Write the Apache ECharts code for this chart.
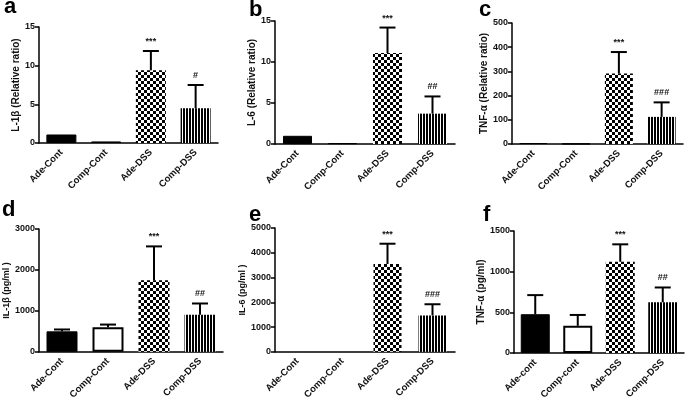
<!DOCTYPE html>
<html><head><meta charset="utf-8">
<script src="https://cdn.jsdelivr.net/npm/echarts@6/dist/echarts.min.js"></script>
<style>html,body{margin:0;padding:0;background:#fff}#c{width:685px;height:402px}</style>
</head><body><div id="c"></div>
<script>
// ---------- data ----------
const catsA = ['Ade-Cont', 'Comp-Cont', 'Ade-DSS', 'Comp-DSS'];
const catsB = ['Ade-Cont', 'Comp-Cont', 'Ade-DSS', 'Comp-DSS'];
const catsC = ['Ade-Cont', 'Comp-Cont', 'Ade-DSS', 'Comp-DSS'];
const catsD = ['Ade-Cont', 'Comp-Cont', 'Ade-DSS', 'Comp-DSS'];
const catsE = ['Ade-Cont', 'Comp-Cont', 'Ade-DSS', 'Comp-DSS'];
const catsF = ['Ade-cont', 'Comp-cont', 'Ade-DSS', 'Comp-DSS'];

const valsA = [1.1, 0.2, 9.4, 4.5];
const errA  = [null, null, 11.9, 7.5];
const sigA  = ['', '', '***', '#'];

const valsB = [1.0, 0.1, 11.1, 3.7];
const errB  = [null, null, 14.2, 5.8];
const sigB  = ['', '', '***', '##'];

const valsC = [4, 1, 291, 112];
const errC  = [null, null, 380, 172];
const sigC  = ['', '', '***', '###'];

const valsD = [500, 600, 1750, 905];
const errD  = [545, 665, 2575, 1180];
const sigD  = ['', '', '***', '##'];

const valsE = [0, 0, 3545, 1470];
const errE  = [null, null, 4365, 1920];
const sigE  = ['', '', '***', '###'];

const valsF = [476, 333, 1121, 623];
const errF  = [711, 467, 1336, 805];
const sigF  = ['', '', '***', '##'];

const yMaxes = [15, 15, 500, 3000, 5000, 1500];
const yIntervals = [5, 5, 100, 1000, 1000, 500];
const yNames = ['L-1β (Relative ratio)', 'L-6 (Relative ratio)', 'TNF-α (Relative ratio)',
                'IL-1β (pg/ml )', 'IL-6 (pg/ml )', 'TNF-α (pg/ml)'];
const panelLetters = ['a', 'b', 'c', 'd', 'e', 'f'];

// ---------- patterns ----------
function checker() {
  const c = document.createElement('canvas'); c.width = 6; c.height = 6;
  const x = c.getContext('2d');
  x.fillStyle = '#fff'; x.fillRect(0, 0, 6, 6);
  x.fillStyle = '#000'; x.fillRect(0, 0, 3, 3); x.fillRect(3, 3, 3, 3);
  return c;
}
function stripes() {
  const c = document.createElement('canvas'); c.width = 3; c.height = 3;
  const x = c.getContext('2d');
  x.fillStyle = '#fff'; x.fillRect(0, 0, 3, 3);
  x.fillStyle = '#000'; x.fillRect(0, 0, 2, 3);
  return c;
}
const checkerFill = { image: checker(), repeat: 'repeat' };
const stripeFill = { image: stripes(), repeat: 'repeat' };

// ---------- layout ----------
const panels = [
  { cats: catsA, vals: valsA, err: errA, sig: sigA, grid: { left: 39, top: 27, width: 179, height: 116 }, bw: 30, gap: 18, nameSize: 10, white: false },
  { cats: catsB, vals: valsB, err: errB, sig: sigB, grid: { left: 275, top: 21, width: 180, height: 123 }, bw: 29, gap: 11, nameSize: 10, white: false },
  { cats: catsC, vals: valsC, err: errC, sig: sigC, grid: { left: 512, top: 23, width: 171, height: 121 }, bw: 28, gap: 19, nameSize: 10, white: false },
  { cats: catsD, vals: valsD, err: errD, sig: sigD, grid: { left: 39, top: 229, width: 184, height: 125 }, bw: 31, gap: 25, nameSize: 9, white: true },
  { cats: catsE, vals: valsE, err: errE, sig: sigE, grid: { left: 275, top: 228, width: 180, height: 126 }, bw: 28, gap: 28, nameSize: 9, white: true },
  { cats: catsF, vals: valsF, err: errF, sig: sigF, grid: { left: 514, top: 231, width: 170, height: 124 }, bw: 29, gap: 21, nameSize: 10, white: true }
];

const FONT = 'Liberation Sans';
const grids = [], xAxes = [], yAxes = [], series = [];

panels.forEach((p, k) => {
  grids.push(Object.assign({ containLabel: false }, p.grid));
  xAxes.push({
    type: 'category', gridIndex: k, data: p.cats,
    axisLine: { lineStyle: { color: '#000', width: 1.5 } },
    axisTick: { alignWithLabel: true, length: 4, lineStyle: { color: '#000', width: 1.5 } },
    axisLabel: { rotate: 45, interval: 0, margin: 8, color: '#111', fontFamily: FONT, fontWeight: 'bold', fontSize: 9.5 }
  });
  yAxes.push({
    type: 'value', gridIndex: k, min: 0, max: yMaxes[k], interval: yIntervals[k],
    name: yNames[k], nameLocation: 'middle', nameGap: p.gap, nameRotate: 90,
    nameTextStyle: { color: '#111', fontFamily: FONT, fontWeight: 'bold', fontSize: p.nameSize },
    axisLine: { show: true, lineStyle: { color: '#000', width: 1.5 } },
    axisTick: { show: true, length: 4, lineStyle: { color: '#000', width: 1.5 } },
    splitLine: { show: false },
    axisLabel: { margin: 4, color: '#111', fontFamily: FONT, fontWeight: 'bold', fontSize: 9, formatter: v => String(v) }
  });
  const styles = [
    { color: '#000', borderColor: '#000', borderWidth: 1 },
    p.white ? { color: '#fff', borderColor: '#000', borderWidth: 2 } : { color: '#000', borderColor: '#000', borderWidth: 1 },
    { color: checkerFill, borderWidth: 0 },
    { color: stripeFill, borderWidth: 0 }
  ];
  series.push({
    type: 'bar', xAxisIndex: k, yAxisIndex: k, barWidth: p.bw, silent: true, animation: false,
    data: p.vals.map((v, i) => ({ value: v, itemStyle: v === 0 ? { color: 'transparent', borderWidth: 0 } : styles[i] }))
  });
  const errData = [];
  p.err.forEach((e, i) => { if (e != null) errData.push([i, p.vals[i], e]); });
  series.push({
    type: 'custom', xAxisIndex: k, yAxisIndex: k, z: 5, silent: true, animation: false,
    encode: { x: 0, y: [1, 2] },
    data: errData,
    renderItem: function (params, api) {
      const i = api.value(0), v = api.value(1), e = api.value(2);
      const p0 = api.coord([i, v]), p1 = api.coord([i, e]);
      const s = p.sig[i];
      const ch = [
        { type: 'line', shape: { x1: p0[0], y1: p0[1], x2: p1[0], y2: p1[1] }, style: { stroke: '#000', lineWidth: 2 } },
        { type: 'line', shape: { x1: p1[0] - 8, y1: p1[1], x2: p1[0] + 8, y2: p1[1] }, style: { stroke: '#000', lineWidth: 2 } }
      ];
      if (s) ch.push({ type: 'text', style: { text: s, x: p1[0], y: p1[1] - 5, align: 'center', verticalAlign: 'bottom', fill: '#111', font: 'bold 9px "Liberation Sans"' } });
      return { type: 'group', children: ch };
    }
  });
});

const letterPos = [[4, 7], [249, 10], [479, 10], [2, 210], [249, 215], [483, 215]];
const graphics = panelLetters.map((t, i) => ({
  type: 'text', left: letterPos[i][0], top: letterPos[i][1] - 11,
  style: { text: t, fill: '#000', font: 'bold 22px "Liberation Sans"' }
}));

const chart = echarts.init(document.getElementById('c'), null, { renderer: 'canvas' });
chart.setOption({
  animation: false, backgroundColor: '#fff',
  grid: grids, xAxis: xAxes, yAxis: yAxes, series: series, graphic: graphics
});
</script></body></html>
